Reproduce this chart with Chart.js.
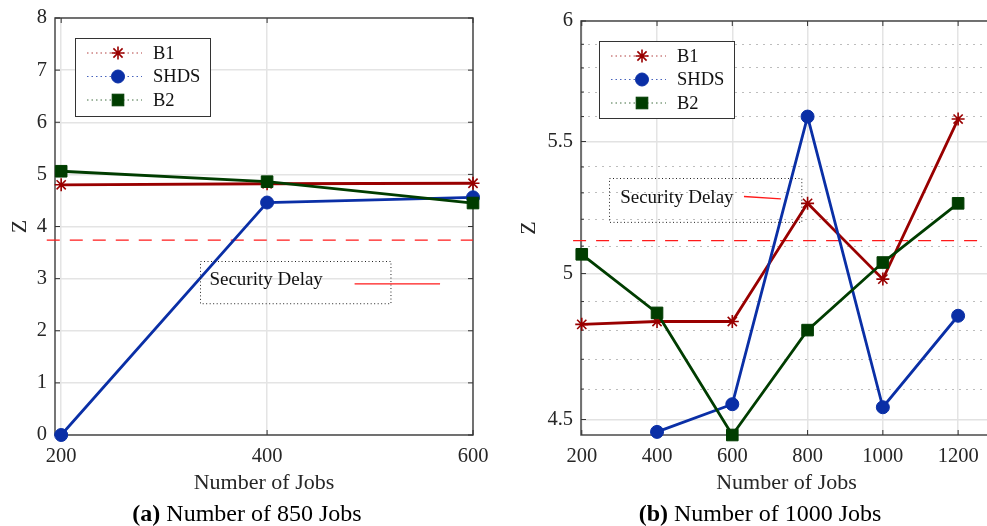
<!DOCTYPE html>
<html><head><meta charset="utf-8">
<script src="https://cdn.jsdelivr.net/npm/chart.js@4.4.1/dist/chart.umd.min.js"></script>
<style>
html,body{margin:0;padding:0;background:#fff;overflow:hidden;width:987px;height:526px;position:relative;}
#wrapA{position:absolute;left:0;top:0;width:490px;height:526px;}
#wrapB{position:absolute;left:490px;top:0;width:520px;height:526px;}
.cap{position:absolute;top:500px;font-family:'Liberation Serif',serif;font-size:24px;line-height:27px;color:#000;white-space:nowrap;transform:translateX(-50%);}
</style></head>
<body>
<div id="wrapA"><canvas id="cA" width="490" height="526"></canvas></div>
<div id="wrapB"><canvas id="cB" width="520" height="526"></canvas></div>
<div class="cap" style="left:247px"><b>(a)</b> Number of 850 Jobs</div>
<div class="cap" style="left:760px"><b>(b)</b> Number of 1000 Jobs</div>
<script>
// ---------- data ----------
const jobsA = [200, 400, 600];
const b1A   = [4.80, 4.82, 4.83];
const shdsA = [0, 4.46, 4.56];
const b2A   = [5.06, 4.86, 4.45];
const delayA = 3.74;

const jobsB = [200, 400, 600, 800, 1000, 1200];
const b1B   = [4.82, 4.83, 4.83, 5.26, 4.98, 5.59];
const shdsB = [null, 4.46, 4.55, 5.60, 4.54, 4.85];
const b2B   = [5.07, 4.86, 4.45, 4.80, 5.04, 5.26];
const delayB = 5.12;

const xTicksA = [200, 400, 600];
const yTicksA = [0, 1, 2, 3, 4, 5, 6, 7, 8];
const xTicksB = [200, 400, 600, 800, 1000, 1200];
const yTicksB = [4.5, 4.6, 4.7, 4.8, 4.9, 5.0, 5.1, 5.2, 5.3, 5.4, 5.5, 5.6, 5.7, 5.8, 5.9, 6.0];
const yLabelsB = [4.5, 5, 5.5, 6];

const seriesNames = ['B1', 'SHDS', 'B2'];
const annotationText = 'Security Delay';
const xTitle = 'Number of Jobs';
const yTitle = 'Z';

// ---------- styles ----------
const FONT = "'Liberation Serif', serif";
const COL = { B1: '#990000', SHDS: '#0a2fa6', B2: '#003d00', delay: '#ff1a1a', axis: '#4a4a4a', text: '#262626' };
const PSTYLE = { B1: ['star', 6.5, 1.6], SHDS: ['circle', 6.5, 1], B2: ['rect', 8.2, 1] };

function pts(xs, ys) { return xs.map((v, i) => ({ x: v, y: ys[i] })); }

function datasets(xs, b1, shds, b2, delay, xLo, xHi) {
  const arrs = { B1: b1, SHDS: shds, B2: b2 };
  const order = { B1: 3, SHDS: 2, B2: 1 };
  const ds = seriesNames.map(n => ({
    label: n, data: pts(xs, arrs[n]),
    borderColor: COL[n], backgroundColor: COL[n],
    pointBackgroundColor: COL[n], pointBorderColor: COL[n],
    pointStyle: PSTYLE[n][0], pointRadius: PSTYLE[n][1], pointBorderWidth: PSTYLE[n][2],
    borderWidth: 2.8, order: order[n], clip: false, tension: 0, spanGaps: false
  }));
  ds.push({ label: 'delay', data: [{ x: xLo, y: delay }, { x: xHi, y: delay }],
    borderColor: COL.delay, borderWidth: 1.3, borderDash: [13, 10], pointRadius: 0, order: 4, clip: false });
  return ds;
}

function isMajorB(v) { return yLabelsB.some(m => Math.abs(m - v) < 1e-6); }

function drawMarker(ctx, name, x, y) {
  const [st, r, bw] = PSTYLE[name];
  ctx.save();
  ctx.fillStyle = COL[name]; ctx.strokeStyle = COL[name]; ctx.lineWidth = bw; ctx.setLineDash([]);
  if (st === 'circle') { ctx.beginPath(); ctx.arc(x, y, r, 0, Math.PI * 2); ctx.fill(); ctx.stroke(); }
  else if (st === 'rect') { const s = r * Math.SQRT1_2; ctx.fillRect(x - s, y - s, 2 * s, 2 * s); ctx.strokeRect(x - s, y - s, 2 * s, 2 * s); }
  else {
    ctx.beginPath();
    for (let k = 0; k < 4; k++) { const a = k * Math.PI / 4; ctx.moveTo(x - r * Math.cos(a), y - r * Math.sin(a)); ctx.lineTo(x + r * Math.cos(a), y + r * Math.sin(a)); }
    ctx.stroke();
  }
  ctx.restore();
}

function decor(cfg) {
  return {
    id: 'decor',
    beforeDatasetsDraw(chart) {
      const { ctx, chartArea: a, scales: { x, y } } = chart;
      ctx.save();
      ctx.strokeStyle = COL.axis; ctx.lineWidth = 1.5; ctx.setLineDash([]);
      ctx.strokeRect(a.left, a.top, a.right - a.left, a.bottom - a.top);
      ctx.lineWidth = 1; ctx.strokeStyle = '#333';
      ctx.beginPath();
      for (const v of cfg.xTicks) {
        const px = x.getPixelForValue(v);
        ctx.moveTo(px, a.bottom); ctx.lineTo(px, a.bottom - 5);
        ctx.moveTo(px, a.top); ctx.lineTo(px, a.top + 5);
      }
      for (const v of cfg.yTicks) {
        const py = y.getPixelForValue(v);
        const L = cfg.isMajor(v) ? 5 : 3;
        ctx.moveTo(a.left, py); ctx.lineTo(a.left + L, py);
        ctx.moveTo(a.right, py); ctx.lineTo(a.right - L, py);
      }
      ctx.stroke();
      ctx.restore();
    },
    afterDatasetsDraw(chart) {
      const { ctx, scales: { x, y } } = chart;
      const L = cfg.legend;
      ctx.save();
      // legend
      ctx.fillStyle = '#fff'; ctx.fillRect(L.left, L.top, L.w, L.h);
      ctx.strokeStyle = '#333'; ctx.lineWidth = 1; ctx.setLineDash([]);
      ctx.strokeRect(L.left + 0.5, L.top + 0.5, L.w, L.h);
      seriesNames.forEach((n, i) => {
        const yy = L.top + 15 + i * 23.5;
        ctx.save();
        ctx.strokeStyle = COL[n]; ctx.globalAlpha = 0.75; ctx.lineWidth = 1; ctx.setLineDash([1.5, 3]);
        ctx.beginPath(); ctx.moveTo(L.left + 12, yy); ctx.lineTo(L.left + 67, yy); ctx.stroke();
        ctx.restore();
        drawMarker(ctx, n, L.left + 43, yy);
        ctx.fillStyle = '#111'; ctx.font = "18.5px " + FONT; ctx.textBaseline = 'middle'; ctx.textAlign = 'left';
        ctx.fillText(n, L.left + 78, yy + 1);
      });
      // annotation
      const A = cfg.ann;
      const bx1 = x.getPixelForValue(A.box[0]), bx2 = x.getPixelForValue(A.box[1]);
      const by1 = y.getPixelForValue(A.box[2]), by2 = y.getPixelForValue(A.box[3]);
      ctx.strokeStyle = '#222'; ctx.lineWidth = 1; ctx.setLineDash([1, 2.5]);
      ctx.strokeRect(Math.round(bx1) + 0.5, Math.round(by1) + 0.5, bx2 - bx1, by2 - by1);
      ctx.setLineDash([]);
      ctx.fillStyle = '#111'; ctx.font = "19px " + FONT; ctx.textBaseline = 'alphabetic'; ctx.textAlign = 'left';
      ctx.fillText(annotationText, x.getPixelForValue(A.text[0]), y.getPixelForValue(A.text[1]));
      ctx.strokeStyle = COL.delay; ctx.lineWidth = 1.3;
      ctx.beginPath();
      ctx.moveTo(x.getPixelForValue(A.line[0]), y.getPixelForValue(A.line[1]));
      ctx.lineTo(x.getPixelForValue(A.line[2]), y.getPixelForValue(A.line[3]));
      ctx.stroke();
      ctx.restore();
    }
  };
}

function makeChart(id, o) {
  return new Chart(document.getElementById(id), {
    type: 'line',
    data: { datasets: o.datasets },
    options: {
      responsive: false, animation: false, events: [],
      layout: { padding: o.padding },
      plugins: { legend: { display: false }, tooltip: { enabled: false } },
      scales: {
        x: {
          type: 'linear', min: o.xMin, max: o.xMax,
          afterBuildTicks: s => { s.ticks = o.xTicks.map(v => ({ value: v })); },
          afterFit: s => { s.height = 61; s.paddingLeft = 0; s.paddingRight = 0; },
          ticks: { autoSkip: false, maxRotation: 0, padding: 9, color: COL.text, font: { family: FONT, size: 20.5 }, callback: v => String(v) },
          grid: { color: '#e4e4e4', lineWidth: 1.5, drawTicks: false },
          border: { display: false },
          title: { display: true, text: xTitle, color: COL.text, font: { family: FONT, size: 22 }, padding: 0 }
        },
        y: {
          type: o.yType, min: o.yMin, max: o.yMax,
          afterBuildTicks: s => { s.ticks = o.yTicks.map(v => ({ value: v })); },
          afterFit: s => { s.width = o.yWidth; s.paddingTop = 0; s.paddingBottom = 0; },
          ticks: { autoSkip: false, padding: 8, color: COL.text, font: { family: FONT, size: 20.5 }, callback: o.yLabel },
          grid: o.yGrid,
          border: o.yBorder,
          title: { display: true, text: yTitle, color: COL.text, font: { family: FONT, size: 22 }, padding: { top: o.yTitlePad, bottom: 0 } }
        }
      }
    },
    plugins: [decor(o.decor)]
  });
}

makeChart('cA', {
  datasets: datasets(jobsA, b1A, shdsA, b2A, delayA, 186, 600),
  padding: { left: 0, top: 18, right: 17, bottom: 30 },
  xMin: 194, xMax: 600, xTicks: xTicksA,
  yType: 'linear', yMin: 0, yMax: 8, yTicks: yTicksA, yWidth: 55, yTitlePad: 7,
  yLabel: v => String(v),
  yGrid: { color: '#e4e4e4', lineWidth: 1.5, drawTicks: false },
  yBorder: { display: false },
  decor: {
    xTicks: xTicksA, yTicks: yTicksA, isMajor: () => true,
    legend: { left: 75, top: 38, w: 135, h: 78 },
    ann: { box: [335, 520, 3.34, 2.53], text: [344, 2.88], line: [485, 2.90, 568, 2.90] }
  }
});

makeChart('cB', {
  datasets: datasets(jobsB, b1B, shdsB, b2B, delayB, 177, 1290),
  padding: { left: 0, top: 21, right: 18, bottom: 30 },
  xMin: 198, xMax: 1290, xTicks: xTicksB,
  yType: 'logarithmic', yMin: 4.45, yMax: 6, yTicks: yTicksB, yWidth: 91, yTitlePad: 26,
  yLabel: v => isMajorB(v) ? String(+(+v).toFixed(1)) : '',
  yGrid: {
    color: c => (c.tick && !isMajorB(c.tick.value)) ? '#bdbdbd' : '#e2e2e2',
    lineWidth: c => (c.tick && !isMajorB(c.tick.value)) ? 1 : 1.6,
    drawTicks: false
  },
  yBorder: { display: false, dash: c => (c.tick && !isMajorB(c.tick.value)) ? [2, 5] : [] },
  decor: {
    xTicks: xTicksB, yTicks: yTicksB, isMajor: isMajorB,
    legend: { left: 109, top: 41, w: 135, h: 77 },
    ann: { box: [272, 783, 5.357, 5.19], text: [302, 5.261], line: [631, 5.286, 729, 5.277] }
  }
});
</script>
</body></html>
